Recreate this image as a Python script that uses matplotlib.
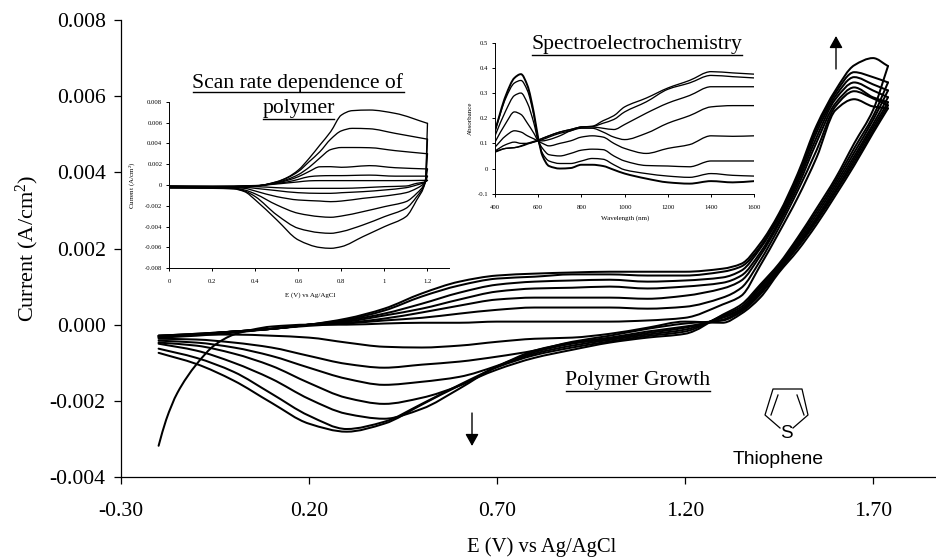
import matplotlib
matplotlib.use('Agg')
import matplotlib.pyplot as plt
from matplotlib.patches import PathPatch
from matplotlib.path import Path
import numpy as np

plt.rcParams['font.family'] = ['Liberation Serif', 'DejaVu Serif']
plt.rcParams['mathtext.fontset'] = 'custom'
plt.rcParams['mathtext.rm'] = 'Liberation Serif'
plt.rcParams['mathtext.default'] = 'regular'

# Main CV, currents in mA/cm2
e_main = [-0.2, -0.1, 0.0, 0.1, 0.2, 0.3, 0.4, 0.5, 0.6, 0.7, 0.8, 0.9, 1.0, 1.1, 1.2,
          1.3, 1.35, 1.4, 1.45, 1.5, 1.55, 1.6, 1.65, 1.7, 1.74]

fwd2 = [-.34, -.29, -.21, -.11, -.03, .03, .11, .18, .29, .39, .45, .45, .45, .42, .47,
        .71, .97, 1.68, 2.55, 3.52, 4.58, 5.73, 6.13, 5.94, 5.76]
fwd3 = [-.32, -.26, -.18, -.11, 0, .05, .16, .32, .50, .66, .71, .71, .71, .68, .76,
        .95, 1.16, 1.81, 2.65, 3.63, 4.79, 5.81, 6.23, 5.97, 5.84]
fwd4 = [-.32, -.26, -.18, -.11, 0, .08, .24, .42, .66, .87, .95, .97, 1.00, .95, 1.00,
        1.10, 1.29, 1.89, 2.72, 3.73, 4.92, 5.92, 6.36, 6.15, 5.97]
fwd5 = [-.32, -.26, -.18, -.11, 0, .11, .29, .55, .84, 1.05, 1.13, 1.16, 1.18, 1.13, 1.16,
        1.24, 1.42, 2.00, 2.80, 3.81, 5.05, 6.00, 6.50, 6.31, 6.15]
fwd6 = [-.29, -.24, -.18, -.11, 0, .13, .37, .74, 1.03, 1.21, 1.26, 1.32, 1.32, 1.29, 1.29,
        1.39, 1.53, 2.05, 2.87, 3.89, 5.15, 6.08, 6.63, 6.50, 6.36]
fwd7 = [-.29, -.24, -.18, -.11, 0, .16, .42, .82, 1.13, 1.29, 1.34, 1.37, 1.39, 1.39, 1.39,
        1.47, 1.60, 2.13, 2.92, 3.97, 5.23, 6.15, 6.81, 7.00, 6.79]

rev1 = [-.29, -.26, -.26, -.29, -.34, -.47, -.58, -.60, -.55, -.45, -.37, -.34, -.24, -.08, .08,
        .05, .29, .71, 1.37, 1.95, 2.63, 3.39, 4.18, 5.03, 5.68]
rev2 = [-.37, -.39, -.47, -.60, -.82, -1.03, -1.13, -1.05, -.97, -.84, -.68, -.45, -.29, -.11, .03,
        .11, .34, .79, 1.42, 2.03, 2.71, 3.47, 4.26, 5.10, 5.76]
rev3 = [-.42, -.47, -.60, -.82, -1.13, -1.42, -1.58, -1.50, -1.37, -1.08, -.68, -.47, -.34, -.18, -.05,
        .13, .37, .84, 1.45, 2.08, 2.76, 3.52, 4.34, 5.18, 5.84]
rev4 = [-.47, -.55, -.76, -1.08, -1.53, -1.92, -2.08, -1.92, -1.60, -1.10, -.72, -.50, -.37, -.22, -.08,
        .18, .39, .89, 1.47, 2.13, 2.81, 3.60, 4.42, 5.26, 5.97]
rev5 = [-.50, -.68, -1.00, -1.42, -1.95, -2.34, -2.47, -2.21, -1.68, -1.10, -.76, -.55, -.40, -.26, -.13,
        .21, .42, .95, 1.50, 2.18, 2.89, 3.68, 4.52, 5.37, 6.15]
rev6 = [-.63, -.87, -1.24, -1.81, -2.39, -2.74, -2.55, -2.08, -1.58, -1.12, -.80, -.60, -.44, -.30, -.18,
        .24, .47, 1.00, 1.55, 2.24, 2.97, 3.76, 4.63, 5.47, 6.36]
rev7 = [-.74, -1.03, -1.47, -2.05, -2.60, -2.81, -2.60, -2.10, -1.60, -1.18, -.87, -.66, -.47, -.34, -.24,
        .26, .53, 1.05, 1.60, 2.29, 3.05, 3.84, 4.76, 5.63, 6.79]

# first cycle starts far down and has its own points
e_first = [-.2, -.18, -.15, -.1, -.05, 0, .05, .1, .2, .3, .4, .5, .6, .7, .8, .9, 1.0, 1.1, 1.2,
           1.3, 1.35, 1.4, 1.45, 1.5, 1.55, 1.6, 1.65, 1.7, 1.74]
fwd1 = [-3.18, -2.50, -1.79, -1.05, -.53, -.26, -.13, -.05, 0, 0, .03, .05, .05, .08, .08, .08, .08, .11, .18,
        .53, .76, 1.55, 2.42, 3.34, 4.39, 5.63, 5.92, 5.73, 5.68]

# Scan rate inset, mA/cm2
e_up = [0, .2, .4, .5, .55, .6, .65, .7, .75, .8, .85, .93, 1.05, 1.2]
up1 = [-.10, -.12, -.05, .10, .20, .30, .40, .42, .42, .42, .42, .42, .42, .45]
up2 = [-.12, -.14, -.08, .15, .30, .54, .80, .88, .90, .90, .92, .95, .85, .85]
up3 = [-.12, -.15, -.08, .20, .45, .80, 1.30, 1.75, 1.76, 1.70, 1.75, 1.86, 1.66, 1.54]
up4 = [-.14, -.18, -.10, .25, .55, 1.00, 1.70, 2.60, 3.40, 3.60, 3.60, 3.58, 3.30, 3.00]
up5 = [-.16, -.20, -.10, .30, .70, 1.30, 2.24, 3.20, 4.40, 5.20, 5.44, 5.40, 4.96, 4.40]
up6 = [-.16, -.20, -.10, .32, .74, 1.44, 2.56, 3.84, 5.12, 6.72, 7.14, 7.20, 6.88, 5.92]

e_down = [0, .2, .3, .35, .4, .5, .6, .7, .75, .8, .9, 1.0, 1.1, 1.15, 1.19, 1.2]
down1 = [-.12, -.14, -.16, -.16, -.16, -.26, -.32, -.32, -.32, -.32, -.26, -.16, -.10, .16, .30, .45]
down2 = [-.15, -.18, -.20, -.22, -.32, -.54, -.74, -.80, -.80, -.74, -.64, -.48, -.26, 0, .30, .85]
down3 = [-.18, -.22, -.26, -.32, -.58, -1.12, -1.44, -1.54, -1.60, -1.54, -1.28, -1.06, -.74, -.32, .30, 1.54]
down4 = [-.22, -.26, -.30, -.48, -.86, -1.92, -2.72, -3.04, -3.10, -2.98, -2.56, -2.08, -1.60, -.80, .30, 3.00]
down5 = [-.26, -.28, -.34, -.58, -1.12, -2.88, -4.16, -4.58, -4.64, -4.48, -3.84, -3.04, -2.24, -1.12, .30, 4.40]
down6 = [-.30, -.32, -.38, -.64, -1.44, -3.36, -5.28, -6.00, -6.08, -5.92, -4.96, -4.00, -3.04, -1.44, .30, 5.92]

# Spectroelectrochemistry inset
wavelength = [400, 450, 490, 520, 550, 580, 600, 620, 650, 700, 750, 800, 850, 900, 950, 1000,
              1100, 1200, 1300, 1400, 1500, 1600]
abs_a = [.15, .29, .36, .375, .33, .22, .12, .05, .01, .00, .002, .015, .015, .01, -.005, -.02,
         -.04, -.055, -.06, -.05, -.055, -.05]
abs_b = [.15, .28, .34, .35, .31, .21, .115, .06, .03, .02, .02, .03, .04, .037, .015, -.005,
         -.02, -.03, -.035, -.02, -.027, -.03]
abs_c = [.13, .23, .29, .30, .26, .18, .11, .08, .055, .05, .06, .073, .077, .075, .05, .03,
         .012, .01, .007, .03, .03, .03]
abs_d = [.105, .18, .225, .215, .18, .14, .11, .10, .09, .10, .11, .125, .13, .125, .10, .08,
         .06, .08, .095, .13, .128, .13]
abs_e = [.085, .13, .15, .145, .13, .118, .11, .11, .115, .13, .15, .16, .16, .145, .125, .115,
         .14, .18, .21, .245, .25, .25]
abs_f = [.07, .095, .105, .10, .10, .105, .11, .115, .125, .14, .15, .165, .165, .16, .155, .175,
         .22, .26, .29, .325, .325, .325]
abs_g = [.068, .08, .083, .09, .10, .108, .113, .12, .13, .145, .155, .165, .167, .18, .195, .225,
         .265, .315, .34, .37, .365, .36]
abs_h = [.065, .08, .083, .088, .097, .106, .113, .12, .13, .145, .155, .165, .168, .19, .21, .245,
         .28, .32, .35, .385, .38, .375]

W, H = 936, 560


def box(left, top, right, bottom):
    """Axes rectangle from picture pixels."""
    return [left / W, 1 - bottom / H, (right - left) / W, (bottom - top) / H]


def style(ax, size, tick_len, width):
    ax.set_facecolor('none')
    ax.spines['top'].set_visible(False)
    ax.spines['right'].set_visible(False)
    ax.spines['left'].set_linewidth(width)
    ax.spines['bottom'].set_linewidth(width)
    ax.tick_params(labelsize=size, length=tick_len, width=width, pad=tick_len + 1)


def smooth(ax, x, y, lw):
    """Draw a series as a bezier path through its points so it has no corners."""
    x = np.asarray(x, float)
    y = np.asarray(y, float)
    h = np.diff(x)
    s = np.diff(y) / h
    m = np.zeros(len(x))
    m[0], m[-1] = s[0], s[-1]
    for i in range(1, len(x) - 1):
        if s[i - 1] * s[i] > 0:
            m[i] = 2 * s[i - 1] * s[i] / (s[i - 1] + s[i])
    verts = [(x[0], y[0])]
    codes = [Path.MOVETO]
    for i in range(len(x) - 1):
        verts += [(x[i] + h[i] / 3, y[i] + m[i] * h[i] / 3),
                  (x[i + 1] - h[i] / 3, y[i + 1] - m[i + 1] * h[i] / 3),
                  (x[i + 1], y[i + 1])]
        codes += [Path.CURVE4] * 3
    ax.add_patch(PathPatch(Path(verts, codes), fc='none', ec='k', lw=lw, capstyle='round'))


fig = plt.figure(figsize=(W / 100, H / 100), dpi=100)

# main plot
ax = fig.add_axes(box(121, 20, 936, 477))
style(ax, 15.7, 5, 0.9)
ax.set_xlim(-0.30, 1.8676)
ax.set_ylim(-0.004, 0.008)
ax.set_xticks([-0.30, 0.20, 0.70, 1.20, 1.70])
ax.set_xticklabels(['-0.30', '0.20', '0.70', '1.20', '1.70'])
ax.set_yticks(np.arange(-0.004, 0.0081, 0.002))
ax.set_yticklabels(['-0.004', '-0.002', '0.000', '0.002', '0.004', '0.006', '0.008'])
ax.tick_params(axis='x', pad=13)

smooth(ax, e_first, np.array(fwd1) / 1000, 1.45)
for curve in [fwd2, fwd3, fwd4, fwd5, fwd6, fwd7, rev1, rev2, rev3, rev4, rev5, rev6, rev7]:
    smooth(ax, e_main, np.array(curve) / 1000, 1.45)

ax.set_xlabel('E (V) vs Ag/AgCl', fontsize=14.9, va='center')
ax.xaxis.set_label_coords((542 - 121) / 815, -(547 - 477) / 457)
ax.set_ylabel('Current (A/cm$^2$)', fontsize=16, va='center')
ax.yaxis.set_label_coords(-(121 - 27) / 815, (477 - 248) / 457)

# scan rate inset
a1 = fig.add_axes(box(169.3, 101.7, 449, 268.3))
style(a1, 4.8, 2, 0.7)
a1.set_xlim(0, 1.3)
a1.set_ylim(-0.008, 0.008)
a1.set_xticks([0, .2, .4, .6, .8, 1, 1.2])
a1.set_xticklabels(['0', '0.2', '0.4', '0.6', '0.8', '1', '1.2'])
a1.set_yticks(np.arange(-0.008, 0.0081, 0.002))
a1.set_yticklabels(['-0.008', '-0.006', '-0.004', '-0.002', '0', '0.002', '0.004', '0.006', '0.008'])
a1.tick_params(axis='x', pad=6)
for curve in [up1, up2, up3, up4, up5, up6]:
    smooth(a1, e_up, np.array(curve) / 1000, 0.95)
for curve in [down1, down2, down3, down4, down5, down6]:
    smooth(a1, e_down, np.array(curve) / 1000, 0.95)
a1.set_xlabel('E (V) vs Ag/AgCl', fontsize=5, va='center')
a1.xaxis.set_label_coords((310 - 169.3) / 279.7, -(295 - 268.3) / 166.6)
a1.set_ylabel('Current (A/cm$^2$)', fontsize=5, va='center')
a1.yaxis.set_label_coords(-(169.3 - 132) / 279.7, 0.5)

# spectroelectrochemistry inset
a2 = fig.add_axes(box(495, 42.7, 754.3, 193.7))
style(a2, 4.8, 2, 0.7)
a2.set_xlim(400, 1600)
a2.set_ylim(-0.1, 0.5)
a2.set_xticks(range(400, 1601, 200))
a2.set_yticks([-0.1, 0, 0.1, 0.2, 0.3, 0.4, 0.5])
a2.set_yticklabels(['-0.1', '0', '0.1', '0.2', '0.3', '0.4', '0.5'])
a2.tick_params(axis='x', pad=6)
for s in [abs_b, abs_c, abs_d, abs_e, abs_f, abs_g, abs_h]:
    smooth(a2, wavelength, s, 0.95)
smooth(a2, wavelength, abs_a, 1.4)
a2.set_xlabel('Wavelength (nm)', fontsize=5, va='center')
a2.xaxis.set_label_coords((625 - 495) / 259.3, -(218 - 193.7) / 151)
a2.set_ylabel('Absorbance', fontsize=5, va='center')
a2.yaxis.set_label_coords(-(495 - 470) / 259.3, (193.7 - 118) / 151)

# overlay for the hand-placed labels, in picture pixels
top = fig.add_axes([0, 0, 1, 1])
top.set_xlim(0, W)
top.set_ylim(H, 0)
top.axis('off')
top.patch.set_alpha(0)


def title(x, y, under, text, x0, x1):
    top.text(x, y, text, fontsize=15.6, ha='center', va='center')
    top.plot([x0, x1], [under, under], color='k', lw=1.0)


title(298, 83, 92, 'Scan rate dependence of', 193, 404)
title(298.5, 109, 119, 'polymer', 263, 334)
title(637, 45, 55, 'Spectroelectrochemistry', 532, 742)
title(638, 381, 391, 'Polymer Growth', 566, 710)

# growth arrows
head = dict(arrowstyle='-|>,head_width=0.4,head_length=0.72', color='k', lw=1.0, shrinkA=0, shrinkB=0)
top.annotate('', xy=(472, 446), xytext=(472, 413), arrowprops=head)
top.annotate('', xy=(836, 36), xytext=(836, 69), arrowprops=head)

# thiophene ring
ring_x = [780, 765, 773, 802, 808, 793]
ring_y = [428, 415, 389, 389, 415, 428]
top.plot(ring_x, ring_y, color='k', lw=0.9)
top.plot([778, 771], [395, 415], color='k', lw=0.9)
top.plot([797, 804], [395, 415], color='k', lw=0.9)
top.text(786, 434, 'S', family='Liberation Sans', fontsize=13.5, ha='center', va='center')
top.text(778, 459, 'Thiophene', family='Liberation Sans', fontsize=13.9, ha='center', va='center')

fig.savefig('out.png', dpi=100)
